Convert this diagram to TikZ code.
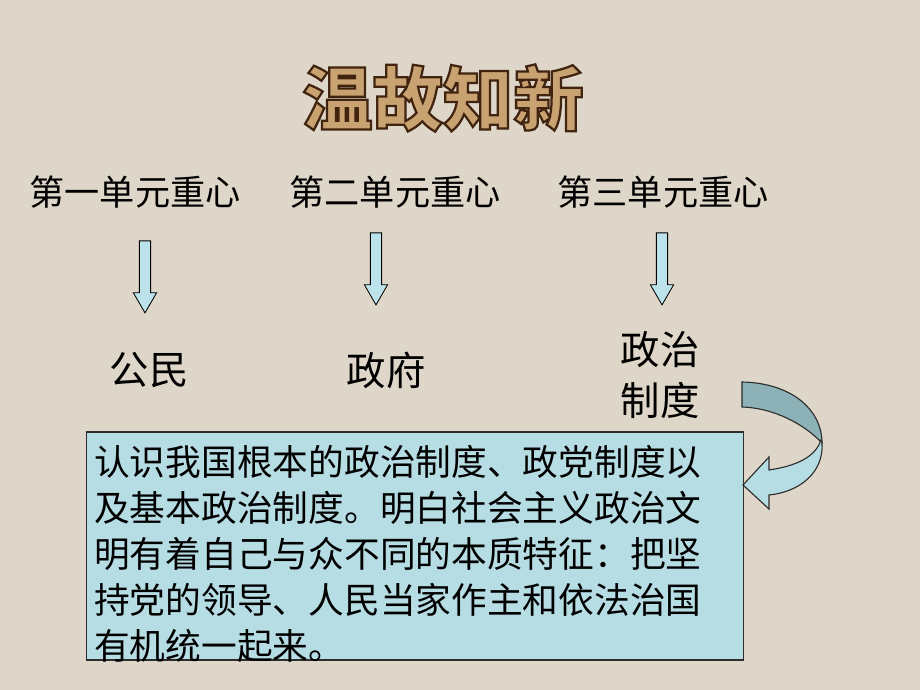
\documentclass[tikz,border=0pt]{standalone}
\usepackage{fontspec}
\usepackage{tikz}
\usetikzlibrary{shapes.arrows}
\newfontfamily\cjk{Noto Sans CJK SC}
\definecolor{paper}{RGB}{222,214,200}
\definecolor{boxblue}{RGB}{183,221,228}
\definecolor{arrowblue}{RGB}{188,226,236}
\definecolor{bandgray}{RGB}{140,178,184}
\definecolor{titlegold}{RGB}{200,162,112}
\definecolor{edgegray}{RGB}{45,45,45}
\newcommand{\outlinedtitle}[1]{{\color{titlegold}\special{pdf:literal direct 2 Tr 1.6 w 0.25 0.14 0.06 RG}#1\special{pdf:literal direct 0 Tr}}}
\tikzset{
  titletext/.style={font=\cjk\bfseries\fontsize{50}{60}\selectfont, inner sep=0pt},
  unit/.style={font=\cjk\fontsize{25}{30}\selectfont, inner sep=0pt},
  topic/.style={font=\cjk\fontsize{28}{36}\selectfont, align=center, inner sep=0pt},
  downarrow/.style={single arrow, draw=black, fill=arrowblue, rotate=-90,
    minimum height=1.8cm, inner sep=0.13cm, single arrow head extend=0.15cm,
    single arrow tip angle=60, line width=0.6pt},
  infobox/.style={draw=edgegray, fill=boxblue, line width=0.8pt,
    minimum width=16.4cm, minimum height=5.7cm},
  bodytext/.style={font=\cjk\fontsize{25.4}{32.7}\selectfont, align=left, inner sep=0pt}
}
\begin{document}
\begin{tikzpicture}[x=0.025cm, y=-0.025cm]
  % background
  \fill[paper] (0,0) rectangle (920,690);

  % title
  \node[titletext] (title) at (443,98) {\outlinedtitle{温故知新}};

  % units
  \node[unit] (u1) at (135,192) {第一单元重心};
  \node[unit] (u2) at (395,192) {第二单元重心};
  \node[unit] (u3) at (663,192) {第三单元重心};

  \node[downarrow] (a1) at (145,272) {};
  \node[downarrow] (a2) at (376,264) {};
  \node[downarrow] (a3) at (662,264) {};

  \node[topic] (g1) at (149,370) {公民};
  \node[topic] (g2) at (386,370) {政府};
  \node[topic] (g3) at (660,375) {政治\\制度};

  % box
  \node[infobox] (box) at (415,546) {};
  \node[bodytext, anchor=west] (txt) at (94,554) {认识我国根本的政治制度、政党制度以\\
    及基本政治制度。明白社会主义政治文\\
    明有着自己与众不同的本质特征：把坚\\
    持党的领导、人民当家作主和依法治国\\
    有机统一起来。};

  % curved arrow
  \draw[fill=bandgray, draw=edgegray, line width=0.8pt]
    (742,382) .. controls (792,383) and (822,410) .. (822,443)
    .. controls (805,425) and (775,408) .. (742,407) -- cycle;
  \draw[fill=boxblue, draw=edgegray, line width=0.8pt]
    (822,443) .. controls (824,472) and (800,492) .. (769,495)
    -- (769,509) -- (743,485) -- (769,457) -- (769,470)
    .. controls (795,466) and (815,458) .. (821,440) -- cycle;
\end{tikzpicture}
\end{document}
